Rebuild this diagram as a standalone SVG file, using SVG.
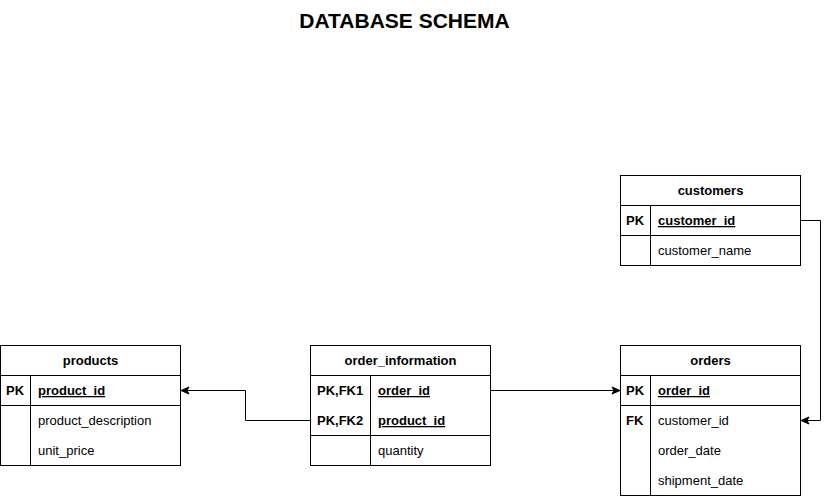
<svg xmlns="http://www.w3.org/2000/svg" width="829" height="496" viewBox="0 0 829 496">
<defs>
<style>
.box{fill:#fff;stroke:#000;stroke-width:1}
.ln{stroke:#000;stroke-width:1;fill:none}
.t{font-family:"Liberation Sans",Arial,sans-serif;font-size:13px;fill:#000}
.h{font-weight:bold;text-anchor:middle}
.k{font-weight:bold}
.u{text-decoration:underline;font-weight:bold}
.title{font-family:"Liberation Sans",Arial,sans-serif;font-size:21px;font-weight:bold;text-anchor:middle;fill:#000}
</style>
<marker id="arr" markerWidth="10" markerHeight="10" refX="9" refY="5" orient="auto" markerUnits="userSpaceOnUse">
<path d="M1,1.5 L9,5 L1,8.5 L3,5 Z" fill="#000" stroke="#000" stroke-width="1"/>
</marker>
</defs>
<rect width="829" height="496" fill="#fff"/>
<text class="title" x="404.5" y="27.5">DATABASE SCHEMA</text>

<g id="products">
<rect class="box" x="0.5" y="345.5" width="180" height="120"/>
<line class="ln" x1="0.5" y1="375.5" x2="180.5" y2="375.5"/>
<line class="ln" x1="0.5" y1="405.5" x2="180.5" y2="405.5"/>
<line class="ln" x1="30.5" y1="375.5" x2="30.5" y2="465.5"/>
<text class="t h" x="90.5" y="365">products</text>
<text class="t k" x="6" y="395">PK</text>
<text class="t u" x="38" y="395">product_id</text>
<text class="t" x="38" y="425">product_description</text>
<text class="t" x="38" y="455">unit_price</text>
</g>

<g id="order_information">
<rect class="box" x="310.5" y="345.5" width="180" height="120"/>
<line class="ln" x1="310.5" y1="375.5" x2="490.5" y2="375.5"/>
<line class="ln" x1="310.5" y1="435.5" x2="490.5" y2="435.5"/>
<line class="ln" x1="370.5" y1="375.5" x2="370.5" y2="465.5"/>
<text class="t h" x="400.5" y="365">order_information</text>
<text class="t k" x="317" y="395">PK,FK1</text>
<text class="t u" x="378" y="395">order_id</text>
<text class="t k" x="317" y="425">PK,FK2</text>
<text class="t u" x="378" y="425">product_id</text>
<text class="t" x="378" y="455">quantity</text>
</g>

<g id="orders">
<rect class="box" x="620.5" y="345.5" width="180" height="150"/>
<line class="ln" x1="620.5" y1="375.5" x2="800.5" y2="375.5"/>
<line class="ln" x1="620.5" y1="405.5" x2="800.5" y2="405.5"/>
<line class="ln" x1="650.5" y1="375.5" x2="650.5" y2="495.5"/>
<text class="t h" x="710.5" y="365">orders</text>
<text class="t k" x="626" y="395">PK</text>
<text class="t u" x="658" y="395">order_id</text>
<text class="t k" x="626" y="425">FK</text>
<text class="t" x="658" y="425">customer_id</text>
<text class="t" x="658" y="455">order_date</text>
<text class="t" x="658" y="485">shipment_date</text>
</g>

<g id="customers">
<rect class="box" x="620.5" y="175.5" width="180" height="90"/>
<line class="ln" x1="620.5" y1="205.5" x2="800.5" y2="205.5"/>
<line class="ln" x1="620.5" y1="235.5" x2="800.5" y2="235.5"/>
<line class="ln" x1="650.5" y1="205.5" x2="650.5" y2="265.5"/>
<text class="t h" x="710.5" y="195">customers</text>
<text class="t k" x="626" y="225">PK</text>
<text class="t u" x="658" y="225">customer_id</text>
<text class="t" x="658" y="255">customer_name</text>
</g>

<g id="connectors">
<path class="ln" d="M310.5,420.5 H245.5 V390.5 H181" marker-end="url(#arr)"/>
<path class="ln" d="M490.5,390.5 H620" marker-end="url(#arr)"/>
<path class="ln" d="M800.5,220.5 H820.5 V420.5 H801" marker-end="url(#arr)"/>
</g>
</svg>
